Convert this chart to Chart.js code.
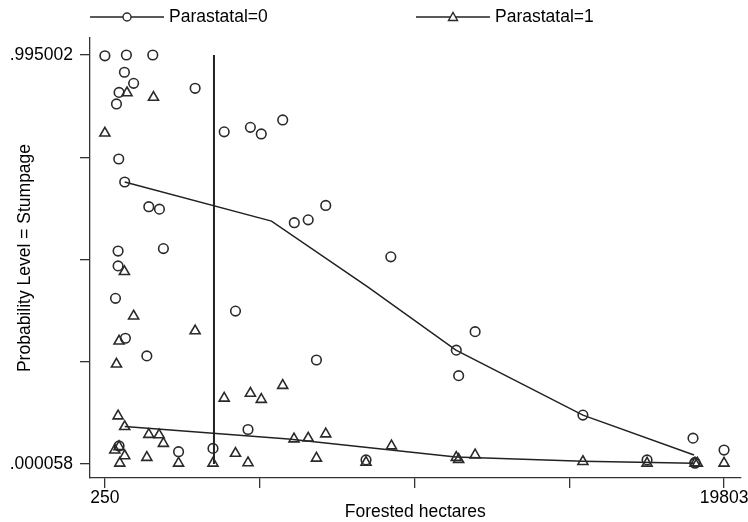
<!DOCTYPE html>
<html lang="en">
  <head>
    <meta charset="UTF-8" />
    <title>Probability Level = Stumpage</title>
    <script src="https://cdn.jsdelivr.net/npm/chart.js"></script>
    <style>
      html, body { margin: 0; padding: 0; background: #fff; }
      #grafico { display: block; }
    </style>
  </head>
  <body>
    <canvas id="grafico" width="748" height="522"></canvas>

    <script>
      // Parastatal=0 (circles)
      const circX = [250, 930, 1763, 867, 1158, 698, 616, 3100, 688, 876, 1637, 1973, 4018, 4845, 5189, 5866,
        667, 2098, 667, 585, 4375, 898, 1575, 698, 2577, 3664, 4770, 6232, 6671, 7225, 9280, 6931,
        11347, 11942, 11422, 8497, 15346, 17372, 18823, 18885, 18885, 19803]
      const circY = [0.993, 0.995, 0.995, 0.953, 0.926, 0.904, 0.876, 0.914, 0.742, 0.686, 0.626, 0.620, 0.808, 0.819, 0.803, 0.837,
        0.518, 0.524, 0.482, 0.403, 0.372, 0.306, 0.263, 0.044, 0.030, 0.038, 0.084, 0.587, 0.594, 0.629, 0.504, 0.253,
        0.277, 0.322, 0.215, 0.010, 0.119, 0.010, 0.063, 0.004, 0.002, 0.034]

      // Parastatal=1 (triangles)
      const triX = [948, 1785, 250, 867, 1158, 3100, 698, 616, 667, 876, 1637, 1963, 2098, 563, 876, 720, 1575,
        2577, 3664, 4375, 4770, 4018, 4845, 5189, 5866, 698, 6223, 6671, 7225, 6931, 8497, 9301,
        11347, 11422, 11942, 15346, 17372, 18885, 18960, 19803]
      const triY = [0.903, 0.892, 0.805, 0.468, 0.360, 0.324, 0.299, 0.243, 0.117, 0.091, 0.072, 0.071, 0.050, 0.034, 0.020, 0.002, 0.016,
        0.002, 0.002, 0.026, 0.003, 0.160, 0.172, 0.157, 0.191, 0.042, 0.061, 0.063, 0.073, 0.014, 0.004, 0.044,
        0.016, 0.011, 0.022, 0.006, 0.002, 0.002, 0.002, 0.002]

      // linhas ajustadas
      const fit0X = [876, 5512, 8550, 11337, 15346, 18854]
      const fit0Y = [0.686, 0.591, 0.431, 0.277, 0.119, 0.022]
      const fit1X = [876, 6044, 11337, 15346, 18854]
      const fit1Y = [0.091, 0.061, 0.017, 0.007, 0.002]

      // linha vertical
      const vlineX = [3695, 3695]
      const vlineY = [0.000058, 0.995002]

      // eixos
      const xTicks = [250, 5138.25, 10026.5, 14914.75, 19803]
      const xTickLabels = ["250", "", "", "", "19803"]
      const yTicks = [0.000058, 0.248794, 0.49753, 0.746266, 0.995002]
      const yTickLabels = [".000058", "", "", "", ".995002"]

      const legendLabels = ["Parastatal=0", "Parastatal=1"]

      function pares(xs, ys) {
        let out = []
        for (let i = 0; i < xs.length; i++) {
          out.push({ x: xs[i], y: ys[i] })
        }
        return out
      }

      const corMarca = "#2a2a2a"
      const corLinha = "#222"
      const corTexto = "#000"
      const fonte = "'Liberation Sans', Arial, sans-serif"

      // legenda no estilo do Stata: linha - marcador - linha + texto
      const legendaStata = {
        id: "legendaStata",
        afterDraw(chart) {
          const ctx = chart.ctx
          const itens = [
            { x: 90, estilo: "circle", texto: legendLabels[0] },
            { x: 416, estilo: "triangle", texto: legendLabels[1] },
          ]
          const y = 17
          ctx.save()
          for (let i = 0; i < itens.length; i++) {
            const it = itens[i]
            ctx.strokeStyle = corLinha
            ctx.lineWidth = 1.5
            ctx.beginPath()
            ctx.moveTo(it.x, y)
            ctx.lineTo(it.x + 74, y)
            ctx.stroke()
            const cx = it.x + 37
            ctx.fillStyle = "#fff"
            ctx.strokeStyle = corMarca
            ctx.lineWidth = 1.4
            ctx.beginPath()
            if (it.estilo === "circle") {
              ctx.arc(cx, y, 4, 0, Math.PI * 2)
            } else {
              ctx.moveTo(cx - 4.5, y + 3.5)
              ctx.lineTo(cx + 4.5, y + 3.5)
              ctx.lineTo(cx, y - 4.5)
              ctx.closePath()
            }
            ctx.fill()
            ctx.stroke()
            ctx.fillStyle = corTexto
            ctx.font = "17.5px " + fonte
            ctx.textBaseline = "middle"
            ctx.textAlign = "left"
            ctx.fillText(it.texto, it.x + 79, y)
          }
          ctx.restore()
        },
      }

      new Chart(document.getElementById("grafico").getContext("2d"), {
        type: "scatter",
        data: {
          datasets: [
            {
              label: legendLabels[0],
              data: pares(circX, circY),
              pointStyle: "circle",
              pointRadius: 4.8,
              borderColor: corMarca,
              backgroundColor: "rgba(0,0,0,0)",
              pointBorderWidth: 1.6,
            },
            {
              label: legendLabels[1],
              data: pares(triX, triY),
              pointStyle: "triangle",
              pointRadius: 5.8,
              borderColor: corMarca,
              backgroundColor: "rgba(0,0,0,0)",
              pointBorderWidth: 1.6,
            },
            {
              type: "line",
              data: pares(fit0X, fit0Y),
              borderColor: corLinha,
              borderWidth: 1.5,
              pointRadius: 0,
              fill: false,
              tension: 0,
            },
            {
              type: "line",
              data: pares(fit1X, fit1Y),
              borderColor: corLinha,
              borderWidth: 1.5,
              pointRadius: 0,
              fill: false,
              tension: 0,
            },
            {
              type: "line",
              data: pares(vlineX, vlineY),
              borderColor: corLinha,
              borderWidth: 2,
              pointRadius: 0,
              fill: false,
            },
          ],
        },
        options: {
          responsive: false,
          animation: false,
          layout: { padding: { top: 38, right: 2, left: 0, bottom: 0 } },
          plugins: {
            legend: { display: false },
            tooltip: { enabled: false },
          },
          scales: {
            x: {
              type: "linear",
              min: -219.8,
              max: 20326,
              afterBuildTicks: function (scale) {
                scale.ticks = xTicks.map(function (v) { return { value: v } })
              },
              afterFit: function (scale) {
                scale.height = 44
                scale.paddingLeft = 0
                scale.paddingRight = 0
              },
              ticks: {
                autoSkip: false,
                maxRotation: 0,
                padding: 0,
                color: corTexto,
                font: { family: fonte, size: 17.5 },
                callback: function (value, index) {
                  return xTickLabels[index]
                },
              },
              grid: {
                drawOnChartArea: false,
                drawTicks: true,
                tickLength: 10,
                color: "#333",
                lineWidth: 1.3,
              },
              border: { display: true, color: "#333", width: 1.3 },
              title: {
                display: true,
                text: "Forested hectares",
                color: corTexto,
                font: { family: fonte, size: 17.5 },
                padding: { top: 0, bottom: -1 },
              },
            },
            y: {
              type: "linear",
              min: -0.034,
              max: 1.03635,
              afterBuildTicks: function (scale) {
                scale.ticks = yTicks.map(function (v) { return { value: v } })
              },
              afterFit: function (scale) {
                scale.width = 90
                scale.paddingTop = 0
                scale.paddingBottom = 0
              },
              ticks: {
                autoSkip: false,
                padding: 7,
                color: corTexto,
                font: { family: fonte, size: 17.5 },
                callback: function (value, index) {
                  return yTickLabels[index]
                },
              },
              grid: {
                drawOnChartArea: false,
                drawTicks: true,
                tickLength: 10,
                color: "#333",
                lineWidth: 1.3,
              },
              border: { display: true, color: "#333", width: 1.3 },
              title: {
                display: true,
                text: "Probability Level = Stumpage",
                color: corTexto,
                font: { family: fonte, size: 17.5 },
                padding: { top: 15, bottom: 0 },
              },
            },
          },
        },
        plugins: [legendaStata],
      })
    </script>
  </body>
</html>
